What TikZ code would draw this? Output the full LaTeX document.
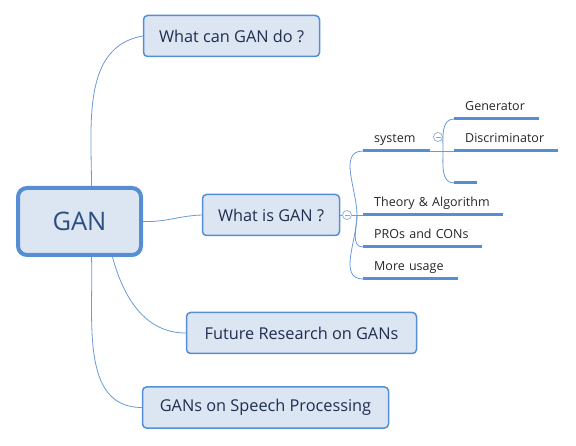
\documentclass[tikz,border=0pt]{standalone}
\usepackage{fontspec}
\setmainfont{Open Sans}
\definecolor{gblue}{HTML}{558ED5}
\definecolor{gfill}{HTML}{DCE6F2}
\definecolor{gtext}{HTML}{1F2D50}
\definecolor{groot}{HTML}{2E4E82}
\definecolor{gline}{HTML}{6A9AD8}
\definecolor{gfold}{HTML}{8FAAD0}

\begin{document}
\begin{tikzpicture}[x=1pt,y=-1pt,
    root/.style={draw=gblue,fill=gfill,line width=4pt,rounded corners=9pt,inner sep=0pt,
      minimum width=123pt,minimum height=67pt,font=\fontsize{25.5}{30}\selectfont,text=groot},
    topic/.style={draw=gblue,fill=gfill,line width=1.5pt,rounded corners=4pt,inner sep=0pt,
      minimum height=41pt,font=\fontsize{16.3}{19}\selectfont,text=gtext},
    leaf/.style={anchor=south west,inner xsep=11pt,inner ysep=5pt,text depth=3pt,
      text width=#1,align=left,font=\fontsize{12.5}{15}\selectfont,text=black!85},
    ul/.style={gblue,line width=3pt},
    link/.style={gline,line width=0.8pt},
    fold/.style={circle,draw=gfold,fill=white,line width=0.7pt,minimum size=9pt,inner sep=0pt,
      path picture={\draw[gfold,line width=0.7pt] ([xshift=-2.5pt]path picture bounding box.center)
        -- ([xshift=2.5pt]path picture bounding box.center);}}]
  \useasboundingbox (0,0) rectangle (576,446);

  \node[root] (gan) at (79.5,221.5) {GAN};
  \node[topic,minimum width=176pt] (can) at (231.5,36) {What can GAN do ?};
  \node[topic,minimum width=137pt] (is) at (271,215) {What is GAN ?};
  \node[topic,minimum width=230pt] (future) at (301.5,333) {Future Research on GANs};
  \node[topic,minimum width=246pt] (speech) at (265.5,407.5) {GANs on Speech Processing};

  \draw[link] ([xshift=12pt]gan.north) to[out=90,in=190] (can.west);
  \draw[link] (gan.east) to[out=-2,in=182] (is.west);
  \draw[link] ([xshift=33pt]gan.south) to[out=-75,in=180] (future.west);
  \draw[link] ([xshift=12pt]gan.south) to[out=-88,in=180] (speech.west);

  \node[fold] (fold1) at (347,215) {};
  \coordinate (j1) at (357,215);
  \node[leaf=45pt] (sys) at (363,151) {system};
  \node[leaf=118pt] (theory) at (363,215) {\mbox{Theory \& Algorithm}};
  \node[leaf=97pt] (pros) at (363,247) {\mbox{PROs and CONs}};
  \node[leaf=73pt] (more) at (363,279) {\mbox{More usage}};

  \node[fold] (fold2) at (438,137) {};
  \coordinate (j2) at (443,151);
  \node[leaf=63pt] (gen) at (454,119) {Generator};
  \node[leaf=82pt] (dis) at (454,151) {Discriminator};
  \node[leaf=1pt] (emp) at (454,183) {};

  \draw[link] (is.east) -- (fold1.west);
  \draw[link] (fold1.east) -- (j1);
  \draw[link] (j1) to[out=90,in=180] (sys.south west);
  \draw[link] (j1) -- (theory.south west);
  \draw[link] (j1) to[out=-90,in=180] (pros.south west);
  \draw[link] (j1) to[out=-90,in=180] (more.south west);

  \draw[link] (sys.south east) -- (j2);
  \draw[link] (j2) to[out=90,in=180] (gen.south west);
  \draw[link] (j2) -- (dis.south west);
  \draw[link] (j2) to[out=-90,in=180] (emp.south west);

  \foreach \n in {sys,theory,pros,more,gen,dis,emp}
    \draw[ul] (\n.south west) -- (\n.south east);
\end{tikzpicture}
\end{document}
